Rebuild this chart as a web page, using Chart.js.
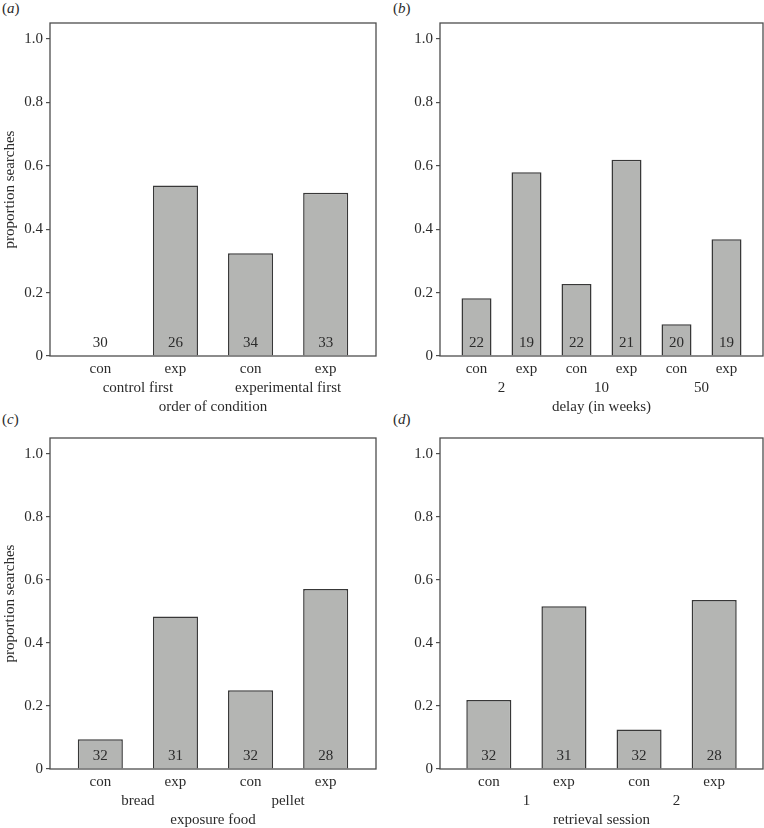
<!DOCTYPE html>
<html>
<head>
<meta charset="utf-8">
<script src="https://cdn.jsdelivr.net/npm/chart.js@4"></script>
<style>
  body{margin:0;background:#fff;}
  #wrap{position:relative;width:764px;height:828px;}
  canvas{position:absolute;}
  .plab{position:absolute;font:15px "Liberation Serif","DejaVu Serif",serif;color:#2b2b2b;}
</style>
</head>
<body>
<div id="wrap">
  <div class="plab" style="left:2px;top:0px">(<i>a</i>)</div>
  <div class="plab" style="left:393px;top:0px">(<i>b</i>)</div>
  <div class="plab" style="left:2px;top:411px">(<i>c</i>)</div>
  <div class="plab" style="left:393px;top:411px">(<i>d</i>)</div>
  <canvas id="pa" width="382" height="414" style="left:0;top:0"></canvas>
  <canvas id="pb" width="382" height="414" style="left:382px;top:0"></canvas>
  <canvas id="pc" width="382" height="414" style="left:0;top:414px"></canvas>
  <canvas id="pd" width="382" height="414" style="left:382px;top:414px"></canvas>
</div>
<script>
// values (proportion searches) and n per bar
const labels4 = ['con','exp','con','exp'];
const labels6 = ['con','exp','con','exp','con','exp'];

const orderGroups = ['control first','experimental first'];
const orderValues = [0, 0.538, 0.324, 0.515];
const orderCounts = [30, 26, 34, 33];

const delayGroups = ['2','10','50'];
const delayValues = [0.182, 0.579, 0.227, 0.619, 0.100, 0.368];
const delayCounts = [22, 19, 22, 21, 20, 19];

const foodGroups = ['bread','pellet'];
const foodValues = [0.094, 0.484, 0.250, 0.571];
const foodCounts = [32, 31, 32, 28];

const sessionGroups = ['1','2'];
const sessionValues = [0.219, 0.516, 0.125, 0.536];
const sessionCounts = [32, 31, 32, 28];

const yTicks = [0, 0.2, 0.4, 0.6, 0.8, 1.0];
const yMax = 1.05;

const FONT = '"Liberation Serif","DejaVu Serif",serif';
const TXT = '#2b2b2b';

const panelText = {
  id:'panelText',
  afterDatasetsDraw(chart, args, o){
    const ctx=chart.ctx, a=chart.chartArea, x=chart.scales.x, y=chart.scales.y;
    ctx.save();
    ctx.strokeStyle='#4d4d4d'; ctx.lineWidth=1.3;
    ctx.strokeRect(a.left, a.top, a.right-a.left, a.bottom-a.top);
    ctx.fillStyle=TXT;
    ctx.font='15px '+FONT;
    ctx.textAlign='center'; ctx.textBaseline='middle';
    const y0=y.getPixelForValue(0);
    o.counts.forEach((c,i)=>ctx.fillText(String(c), x.getPixelForValue(i), y0-12.5));
    o.groups.forEach((g,i)=>ctx.fillText(g, x.getPixelForValue(2*i+0.5), a.bottom+32));
    ctx.fillText(o.xTitle, (a.left+a.right)/2, a.bottom+51);
    if(o.yTitle){
      ctx.translate(10, (a.top+a.bottom)/2);
      ctx.rotate(-Math.PI/2);
      ctx.fillText(o.yTitle, 0, 0);
    }
    ctx.restore();
  }
};

function makePanel(id, labels, values, counts, groups, xTitle, yTitle, area, pad){
  const H=414;
  new Chart(document.getElementById(id),{
    type:'bar',
    data:{datasets:[{
      data:values.map((v,i)=>({x:i,y:v})),
      backgroundColor:'#b4b5b3',
      borderColor:'#383838',
      borderWidth:1.5,
      borderSkipped:'bottom',
      categoryPercentage:1,
      barPercentage:0.6
    }]},
    options:{
      responsive:false,
      animation:false,
      events:[],
      layout:{padding:{top:area.top,right:area.right,left:0,bottom:0}},
      plugins:{
        legend:{display:false},
        tooltip:{enabled:false},
        panelText:{counts, groups, xTitle, yTitle}
      },
      scales:{
        x:{
          type:'linear',
          offset:false,
          min:-pad, max:labels.length-1+pad,
          grid:{display:false,drawTicks:false,offset:false},
          border:{display:false},
          afterBuildTicks:s=>{s.ticks=labels.map((l,i)=>({value:i}));},
          afterFit:s=>{s.height=H-area.bottom;},
          ticks:{autoSkip:false,maxRotation:0,padding:4,color:TXT,font:{family:FONT,size:15},
                 callback:v=>labels[v]}
        },
        y:{
          min:0, max:yMax,
          grid:{drawOnChartArea:false,drawTicks:true,tickLength:4,color:'#4d4d4d',lineWidth:1.2},
          border:{display:false},
          afterBuildTicks:s=>{s.ticks=yTicks.map(v=>({value:v}));},
          afterFit:s=>{s.width=area.left;},
          ticks:{padding:3,color:TXT,font:{family:FONT,size:15},
                 callback:v=>v===0?'0':v.toFixed(1)}
        }
      }
    },
    plugins:[panelText]
  });
}

makePanel('pa', labels4, orderValues, orderCounts, orderGroups, 'order of condition', 'proportion searches',
  {top:23,left:50,right:6,bottom:356}, 0.67);
makePanel('pb', labels6, delayValues, delayCounts, delayGroups, 'delay (in weeks)', null,
  {top:23,left:58,right:1,bottom:356}, 0.73);
makePanel('pc', labels4, foodValues, foodCounts, foodGroups, 'exposure food', 'proportion searches',
  {top:24,left:50,right:6,bottom:355}, 0.67);
makePanel('pd', labels4, sessionValues, sessionCounts, sessionGroups, 'retrieval session', null,
  {top:24,left:58,right:1,bottom:355}, 0.65);
</script>
</body>
</html>
